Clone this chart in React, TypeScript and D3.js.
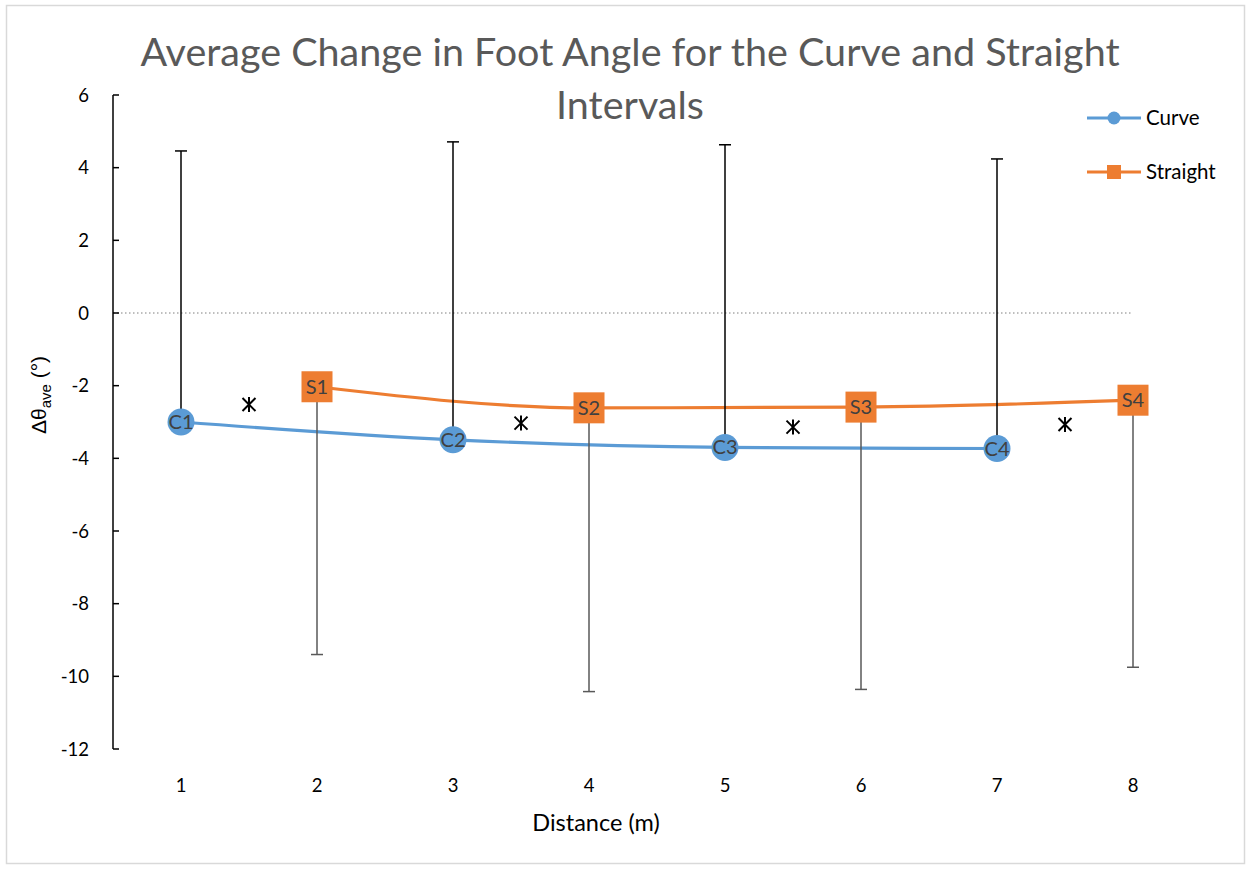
import React from 'react';
import * as d3 from 'd3';

// values
const curveX = [1, 3, 5, 7];
const curveY = [-3.0, -3.49, -3.7, -3.73];
const curveErrUp = [7.46, 8.2, 8.33, 7.97];
const curveLabels = ['C1', 'C2', 'C3', 'C4'];

const straightX = [2, 4, 6, 8];
const straightY = [-2.03, -2.61, -2.59, -2.4];
const straightErrDown = [7.37, 7.81, 7.77, 7.35];
const straightLabels = ['S1', 'S2', 'S3', 'S4'];

const sigX = [1.5, 3.5, 5.5, 7.5];
const sigY = [-2.52, -3.03, -3.14, -3.07];

const xTicks = [1, 2, 3, 4, 5, 6, 7, 8];
const yTicks = [-12, -10, -8, -6, -4, -2, 0, 2, 4, 6];

const W = 1251;
const H = 869;
const font = 'Lato, "Open Sans", sans-serif';

const App = () => {
  const x = d3.scaleLinear().domain([0.5, 8]).range([113, 1133]);
  const y = d3.scaleLinear().domain([-12, 6]).range([749, 95]);

  const line = d3
    .line<[number, number]>()
    .x((d) => x(d[0]))
    .y((d) => y(d[1]))
    .curve(d3.curveMonotoneX);

  const curvePts = curveX.map((v, i) => [v, curveY[i]] as [number, number]);
  const straightPts = straightX.map((v, i) => [v, straightY[i]] as [number, number]);

  const star = (cx: number, cy: number) => {
    const r = 7.5;
    const d = 6.5;
    return `M${cx},${cy - r}L${cx},${cy + r}M${cx - d},${cy - d}L${cx + d},${cy + d}M${cx - d},${cy + d}L${cx + d},${cy - d}`;
  };

  return (
    <svg
      width={W}
      height={H}
      style={{ position: 'absolute', left: 0, top: 0, background: '#fff' }}
    >
      <rect x={6.5} y={5.5} width={1238} height={858} fill="#fff" stroke="#d9d9d9" strokeWidth={1.5} />

      {/* title */}
      <g fill="#595959" fontFamily={font} fontWeight={400} fontSize={39.5} textAnchor="middle">
        <text x={630} y={66}>Average Change in Foot Angle for the Curve and Straight</text>
        <text x={630} y={119}>Intervals</text>
      </g>

      {/* zero line */}
      <line x1={x(0.5)} x2={x(8)} y1={y(0)} y2={y(0)} stroke="#7f7f7f" strokeWidth={1} strokeDasharray="1.5,2.5" />

      {/* y axis */}
      <line x1={x(0.5)} x2={x(0.5)} y1={y(-12)} y2={y(6)} stroke="#000" strokeWidth={1.5} />
      {yTicks.map((t) => (
        <g key={t}>
          <line x1={x(0.5)} x2={x(0.5) + 6} y1={y(t)} y2={y(t)} stroke="#000" strokeWidth={1.5} />
          <text x={89} y={y(t) + 6.5} textAnchor="end" fontFamily={font} fontSize={18.5} fill="#000">
            {t}
          </text>
        </g>
      ))}

      {/* x tick labels */}
      {xTicks.map((t) => (
        <text key={t} x={x(t)} y={792} textAnchor="middle" fontFamily={font} fontSize={18.5} fill="#000">
          {t}
        </text>
      ))}

      <text x={596} y={831} textAnchor="middle" fontFamily={font} fontSize={23.5} fill="#000">
        Distance (m)
      </text>

      <text
        transform="translate(46,395) rotate(-90)"
        textAnchor="middle"
        fontFamily='"Liberation Sans", Arial, sans-serif'
        fontSize={21}
        fill="#000"
      >
        Δθ<tspan fontSize={15} dy={5}>ave</tspan>
        <tspan dy={-5}> (°)</tspan>
      </text>

      {/* lines */}
      <path d={line(curvePts) || ''} fill="none" stroke="#5b9bd5" strokeWidth={3.2} />
      <path d={line(straightPts) || ''} fill="none" stroke="#ed7d31" strokeWidth={3.2} />

      {/* error bars */}
      {curveX.map((v, i) => {
        const top = y(curveY[i] + curveErrUp[i]);
        return (
          <g key={'ce' + i} stroke="#000" strokeWidth={1.5}>
            <line x1={x(v)} x2={x(v)} y1={y(curveY[i])} y2={top} />
            <line x1={x(v) - 6} x2={x(v) + 6} y1={top} y2={top} />
          </g>
        );
      })}
      {straightX.map((v, i) => {
        const bot = y(straightY[i] - straightErrDown[i]);
        return (
          <g key={'se' + i} stroke="#595959" strokeWidth={1.5}>
            <line x1={x(v)} x2={x(v)} y1={y(straightY[i])} y2={bot} />
            <line x1={x(v) - 6} x2={x(v) + 6} y1={bot} y2={bot} />
          </g>
        );
      })}

      {/* markers */}
      {curveX.map((v, i) => (
        <g key={'cm' + i}>
          <circle cx={x(v)} cy={y(curveY[i])} r={13.5} fill="#5b9bd5" />
          <text x={x(v)} y={y(curveY[i]) + 7} textAnchor="middle" fontFamily={font} fontSize={20} fill="#404040">
            {curveLabels[i]}
          </text>
        </g>
      ))}
      {straightX.map((v, i) => (
        <g key={'sm' + i}>
          <rect x={x(v) - 15.5} y={y(straightY[i]) - 15.5} width={31} height={31} fill="#ed7d31" />
          <text x={x(v)} y={y(straightY[i]) + 7} textAnchor="middle" fontFamily={font} fontSize={20} fill="#404040">
            {straightLabels[i]}
          </text>
        </g>
      ))}

      {/* significance stars */}
      {sigX.map((v, i) => (
        <path key={'st' + i} d={star(x(v), y(sigY[i]))} stroke="#000" strokeWidth={2} fill="none" />
      ))}

      {/* legend */}
      <g fontFamily={font} fontSize={20.5} fill="#000">
        <line x1={1087} x2={1141} y1={118} y2={118} stroke="#5b9bd5" strokeWidth={3.2} />
        <circle cx={1114} cy={118} r={6.5} fill="#5b9bd5" />
        <text x={1146} y={125}>Curve</text>
        <line x1={1087} x2={1141} y1={172} y2={172} stroke="#ed7d31" strokeWidth={3.2} />
        <rect x={1107} y={165} width={14} height={14} fill="#ed7d31" />
        <text x={1146} y={179}>Straight</text>
      </g>
    </svg>
  );
};

export default App;
